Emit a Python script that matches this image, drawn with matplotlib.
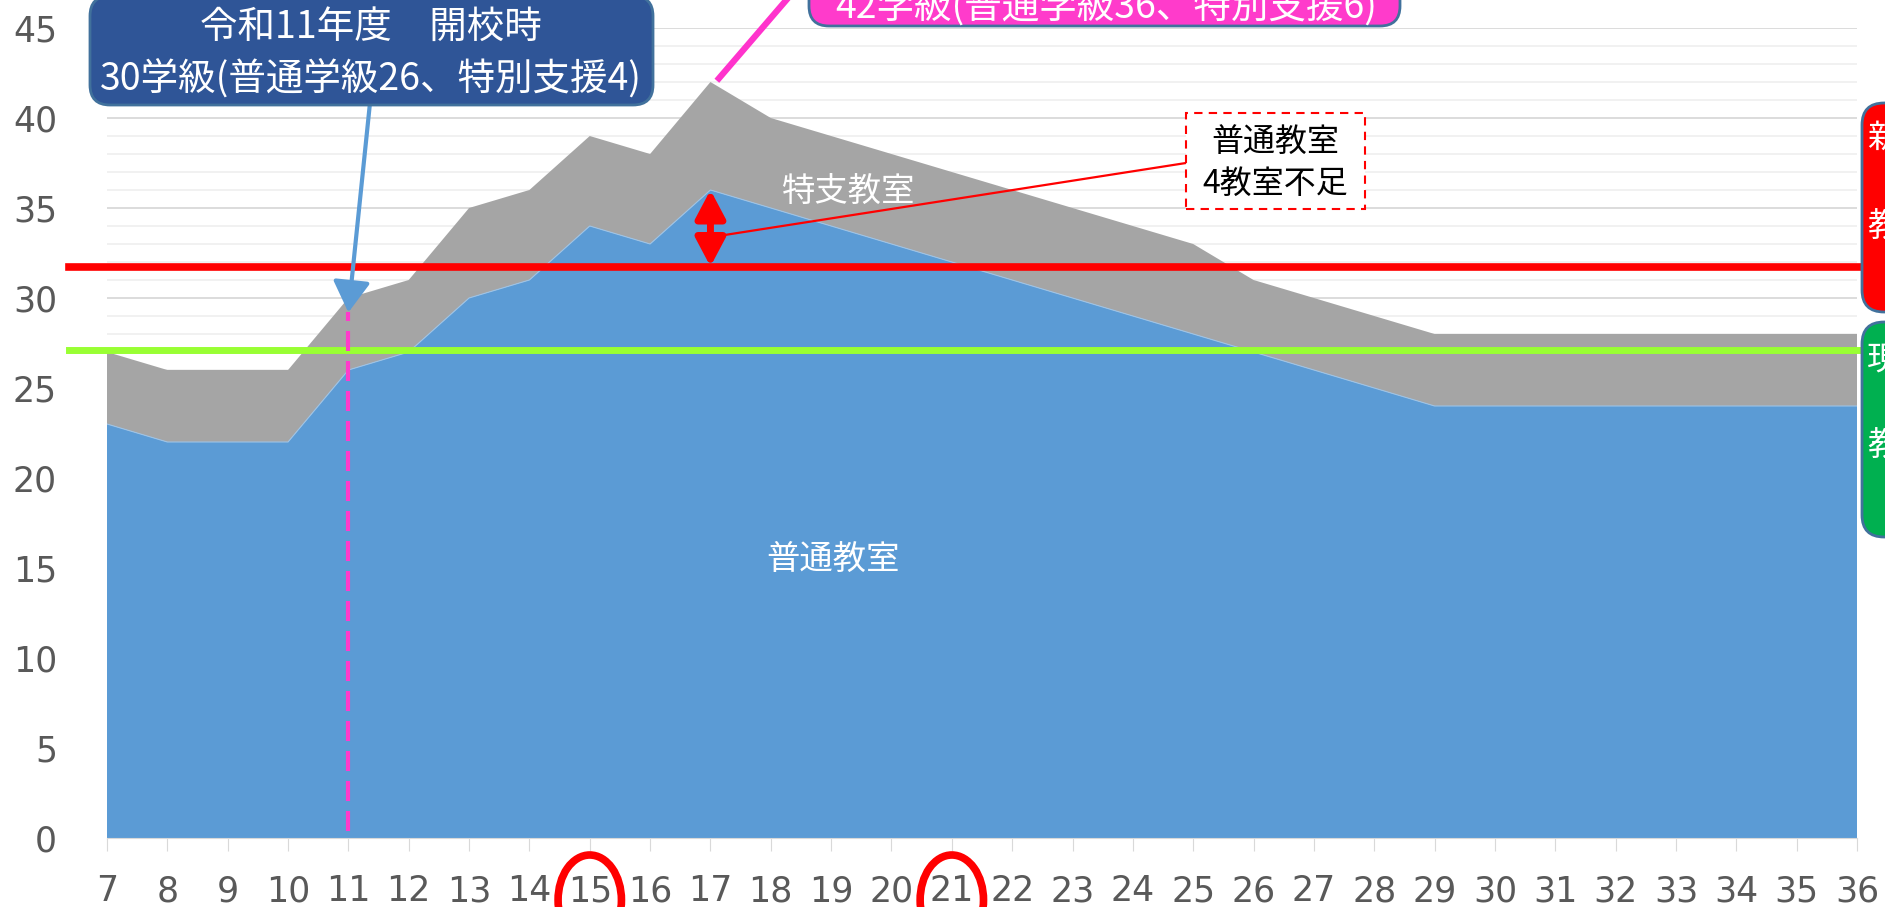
import matplotlib
matplotlib.use("Agg")
import matplotlib.pyplot as plt
import numpy as np
from matplotlib.patches import FancyBboxPatch, Rectangle, Ellipse, FancyArrowPatch
from matplotlib.transforms import blended_transform_factory

years = list(range(7, 37))
futsu = [23, 22, 22, 22, 26, 27, 30, 31, 34, 33, 36, 35, 34, 33, 32,
         31, 30, 29, 28, 27, 26, 25, 24, 24, 24, 24, 24, 24, 24, 24]
tokushi = [4, 4, 4, 4, 4, 4, 5, 5, 5, 5, 6, 5, 5, 5, 5,
           5, 5, 5, 5, 4, 4, 4, 4, 4, 4, 4, 4, 4, 4, 4]
new_rooms = 31.75
old_rooms = 27.1
open_year = 11
peak_year = 17
circled_years = [15, 21]

JP = ['Noto Sans CJK JP', 'DejaVu Sans']
W, H = 1885, 907

def fx(px):
    return px / W

def fy(py):
    return 1 - py / H

fig = plt.figure(figsize=(W / 100, H / 100), dpi=100)
ax = fig.add_axes([fx(107), fy(838), fx(1857) - fx(107), fy(28) - fy(838)])

totals = [a + b for a, b in zip(futsu, tokushi)]
ax.stackplot(years, futsu, tokushi, colors=['#5B9BD5', '#A5A5A5'], linewidth=0)
ax.plot(years, futsu, color='#9DC3E6', lw=0.8)

ax.set_xlim(7, 36)
ax.set_ylim(0, 45)
ax.set_xticks(years)
ax.set_yticks(range(0, 46, 5))
ax.set_yticks(range(0, 46, 1), minor=True)
ax.grid(axis='y', which='major', color='#D9D9D9', lw=1.3)
ax.grid(axis='y', which='minor', color='#F0F0F0', lw=1.3)
ax.set_axisbelow(True)
for s in ['top', 'right', 'left']:
    ax.spines[s].set_visible(False)
ax.spines['bottom'].set_color('#D9D9D9')
ax.tick_params(axis='x', length=9, color='#D9D9D9', pad=17, labelsize=25, labelcolor='#595959')
ax.tick_params(axis='y', which='both', length=0, pad=36, labelsize=25, labelcolor='#595959')

# reference lines for classroom counts
ax.axhline(new_rooms, xmin=-0.022, xmax=1.003, color='#FF0000', lw=5.5, clip_on=False, zorder=4)
ax.axhline(old_rooms, xmin=-0.022, xmax=1.004, color='#99FF33', lw=5, clip_on=False, zorder=4)

# area labels
ax.text(19.28, 35.9, '特支教室', color='white', fontsize=24, family=JP, ha='center', va='center')
ax.text(19.03, 15.5, '普通教室', color='white', fontsize=24, family=JP, ha='center', va='center')

# opening year marker
i_open = years.index(open_year)
ax.plot([open_year, open_year], [0.4, totals[i_open] - 0.8], color='#FF3BCB', lw=3,
        dashes=(4.8, 2.4), zorder=5)
ax.add_patch(FancyArrowPatch((11.36, 40.9), (open_year, totals[i_open] - 0.8),
                             arrowstyle='-|>,head_length=1.0,head_width=0.6', mutation_scale=19,
                             color='#5B9BD5', lw=3, shrinkA=0, shrinkB=0, clip_on=False, zorder=6))

# peak marker
i_peak = years.index(peak_year)
ax.plot([peak_year + 0.14, 18.5], [totals[i_peak] + 0.2, 47.5], color='#FF33CC', lw=4.5,
        clip_on=False, zorder=6)

# shortage arrow
ax.add_patch(FancyArrowPatch((peak_year, futsu[i_peak]), (peak_year, new_rooms),
                             arrowstyle='<|-|>,head_length=0.85,head_width=0.45', mutation_scale=20,
                             color='#FF0000', lw=5, shrinkA=0, shrinkB=0, zorder=6))
ax.plot([17.14, 24.88], [33.45, 37.5], color='#FF0000', lw=1.6, zorder=6)
ax.add_patch(Rectangle((24.88, 34.94), 27.84 - 24.88, 40.28 - 34.94, facecolor='white',
                       edgecolor='#FF0000', lw=1.5, ls=(0, (4, 3)), zorder=6))
ax.text(26.36, 38.6, '普通教室', color='black', fontsize=23, family=JP, ha='center', va='center', zorder=7)
ax.text(26.36, 36.35, '4教室不足', color='black', fontsize=23, family=JP, ha='center', va='center', zorder=7)

# circles around tick labels
tr = blended_transform_factory(ax.transData, fig.transFigure)
for yr in circled_years:
    ax.add_patch(Ellipse((yr, fy(900)), 1.05, 90 / H, transform=tr, fill=False,
                         edgecolor='#FF0000', lw=5.5, clip_on=False, zorder=8))

# callout boxes in figure pixels
def rbox(x0, y0, x1, y1, face, r=18):
    p = FancyBboxPatch((fx(x0), fy(y1)), fx(x1) - fx(x0), fy(y0) - fy(y1),
                       boxstyle='round,pad=0,rounding_size=%f' % (r / W),
                       transform=fig.transFigure, facecolor=face, edgecolor='#41719C',
                       lw=2, clip_on=False, mutation_aspect=W / H)
    fig.patches.append(p)

rbox(90, -4, 653, 105, '#2F5597', r=20)
fig.text(fx(371), fy(27), '令和11年度　開校時', color='white', fontsize=27, family=JP, ha='center', va='center')
fig.text(fx(371), fy(80), '30学級(普通学級26、特別支援4)', color='white', fontsize=27, family=JP,
         ha='center', va='center')

rbox(809, -90, 1400, 26, '#FF3BCB', r=20)
fig.text(fx(1106), fy(19), '42学級(普通学級36、特別支援6)', color='white', fontsize=27, family=JP,
         ha='center', va='baseline')

rbox(1862, 103, 1990, 312, '#FF0000', r=22)
fig.text(fx(1867), fy(138), '新校舎', color='white', fontsize=24, family=JP, ha='left', va='center')
fig.text(fx(1867), fy(226), '教室数', color='white', fontsize=24, family=JP, ha='left', va='center')
rbox(1862, 322, 1990, 537, '#00B050', r=22)
fig.text(fx(1867), fy(360), '現校舎', color='white', fontsize=24, family=JP, ha='left', va='center')
fig.text(fx(1867), fy(445), '教室数', color='white', fontsize=24, family=JP, ha='left', va='center')

fig.savefig('out.png', dpi=100)
